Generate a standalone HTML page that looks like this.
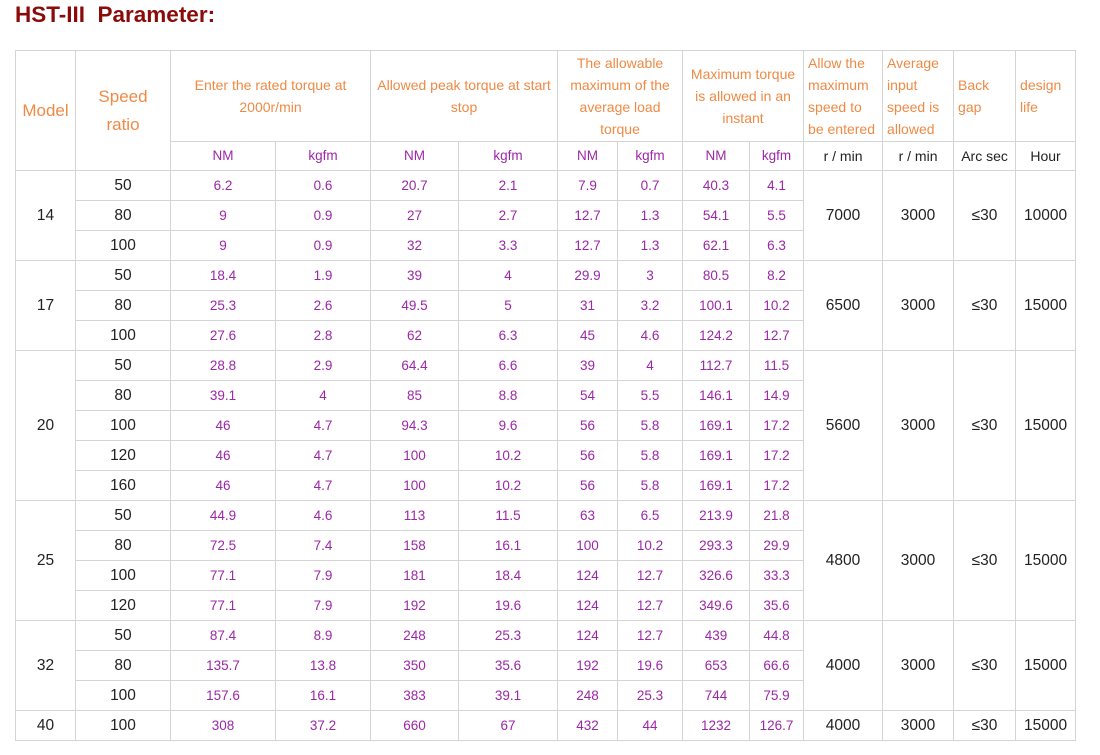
<!DOCTYPE html>
<html><head><meta charset="utf-8"><style>
body{margin:0;background:#fff;font-family:"Liberation Sans",Arial,sans-serif;}
h1{position:absolute;left:15px;top:2px;margin:0;font-size:22.5px;font-weight:bold;color:#8b0a0a;}
table{position:absolute;left:15px;top:50px;border-collapse:collapse;table-layout:fixed;width:1060px;}
td{border:1px solid #d4d4d4;text-align:center;padding:0;font-size:13.5px;color:#9c27a8;height:29px;line-height:28px;}
.h{color:#ef8a45;font-size:14px;line-height:22px;}
.hl{text-align:left;padding-left:4px;}
.k{color:#222;font-size:15.5px;}
.s{color:#222;font-size:14px;}
.big{font-size:17px;line-height:28px;}
tr.sub td{height:28px;line-height:26px;}
</style></head><body>
<h1>HST-III&nbsp; Parameter:</h1>
<table>
<colgroup><col style="width:60px"><col style="width:95px"><col style="width:105px"><col style="width:95px"><col style="width:88px"><col style="width:99px"><col style="width:60px"><col style="width:65px"><col style="width:67px"><col style="width:54px"><col style="width:79px"><col style="width:71px"><col style="width:62px"><col style="width:60px"></colgroup>
<tr style="height:91px"><td rowspan="2" class="h" style="font-size:17px">Model</td><td rowspan="2" class="h big">Speed<br>ratio</td><td colspan="2" class="h">Enter the rated torque at<br>2000r/min</td><td colspan="2" class="h">Allowed peak torque at start<br>stop</td><td colspan="2" class="h">The allowable<br>maximum of the<br>average load<br>torque</td><td colspan="2" class="h">Maximum torque<br>is allowed in an<br>instant</td><td class="h hl">Allow the<br>maximum<br>speed to<br>be entered</td><td class="h hl">Average<br>input<br>speed is<br>allowed</td><td class="h hl">Back<br>gap</td><td class="h hl">design<br>life</td></tr>
<tr class="sub"><td>NM</td><td>kgfm</td><td>NM</td><td>kgfm</td><td>NM</td><td>kgfm</td><td>NM</td><td>kgfm</td><td class="s">r / min</td><td class="s">r / min</td><td class="s">Arc sec</td><td class="s">Hour</td></tr>
<tr><td rowspan="3" class="k">14</td><td class="k">50</td><td>6.2</td><td>0.6</td><td>20.7</td><td>2.1</td><td>7.9</td><td>0.7</td><td>40.3</td><td>4.1</td><td rowspan="3" class="k">7000</td><td rowspan="3" class="k">3000</td><td rowspan="3" class="k">≤30</td><td rowspan="3" class="k">10000</td></tr>
<tr><td class="k">80</td><td>9</td><td>0.9</td><td>27</td><td>2.7</td><td>12.7</td><td>1.3</td><td>54.1</td><td>5.5</td></tr>
<tr><td class="k">100</td><td>9</td><td>0.9</td><td>32</td><td>3.3</td><td>12.7</td><td>1.3</td><td>62.1</td><td>6.3</td></tr>
<tr><td rowspan="3" class="k">17</td><td class="k">50</td><td>18.4</td><td>1.9</td><td>39</td><td>4</td><td>29.9</td><td>3</td><td>80.5</td><td>8.2</td><td rowspan="3" class="k">6500</td><td rowspan="3" class="k">3000</td><td rowspan="3" class="k">≤30</td><td rowspan="3" class="k">15000</td></tr>
<tr><td class="k">80</td><td>25.3</td><td>2.6</td><td>49.5</td><td>5</td><td>31</td><td>3.2</td><td>100.1</td><td>10.2</td></tr>
<tr><td class="k">100</td><td>27.6</td><td>2.8</td><td>62</td><td>6.3</td><td>45</td><td>4.6</td><td>124.2</td><td>12.7</td></tr>
<tr><td rowspan="5" class="k">20</td><td class="k">50</td><td>28.8</td><td>2.9</td><td>64.4</td><td>6.6</td><td>39</td><td>4</td><td>112.7</td><td>11.5</td><td rowspan="5" class="k">5600</td><td rowspan="5" class="k">3000</td><td rowspan="5" class="k">≤30</td><td rowspan="5" class="k">15000</td></tr>
<tr><td class="k">80</td><td>39.1</td><td>4</td><td>85</td><td>8.8</td><td>54</td><td>5.5</td><td>146.1</td><td>14.9</td></tr>
<tr><td class="k">100</td><td>46</td><td>4.7</td><td>94.3</td><td>9.6</td><td>56</td><td>5.8</td><td>169.1</td><td>17.2</td></tr>
<tr><td class="k">120</td><td>46</td><td>4.7</td><td>100</td><td>10.2</td><td>56</td><td>5.8</td><td>169.1</td><td>17.2</td></tr>
<tr><td class="k">160</td><td>46</td><td>4.7</td><td>100</td><td>10.2</td><td>56</td><td>5.8</td><td>169.1</td><td>17.2</td></tr>
<tr><td rowspan="4" class="k">25</td><td class="k">50</td><td>44.9</td><td>4.6</td><td>113</td><td>11.5</td><td>63</td><td>6.5</td><td>213.9</td><td>21.8</td><td rowspan="4" class="k">4800</td><td rowspan="4" class="k">3000</td><td rowspan="4" class="k">≤30</td><td rowspan="4" class="k">15000</td></tr>
<tr><td class="k">80</td><td>72.5</td><td>7.4</td><td>158</td><td>16.1</td><td>100</td><td>10.2</td><td>293.3</td><td>29.9</td></tr>
<tr><td class="k">100</td><td>77.1</td><td>7.9</td><td>181</td><td>18.4</td><td>124</td><td>12.7</td><td>326.6</td><td>33.3</td></tr>
<tr><td class="k">120</td><td>77.1</td><td>7.9</td><td>192</td><td>19.6</td><td>124</td><td>12.7</td><td>349.6</td><td>35.6</td></tr>
<tr><td rowspan="3" class="k">32</td><td class="k">50</td><td>87.4</td><td>8.9</td><td>248</td><td>25.3</td><td>124</td><td>12.7</td><td>439</td><td>44.8</td><td rowspan="3" class="k">4000</td><td rowspan="3" class="k">3000</td><td rowspan="3" class="k">≤30</td><td rowspan="3" class="k">15000</td></tr>
<tr><td class="k">80</td><td>135.7</td><td>13.8</td><td>350</td><td>35.6</td><td>192</td><td>19.6</td><td>653</td><td>66.6</td></tr>
<tr><td class="k">100</td><td>157.6</td><td>16.1</td><td>383</td><td>39.1</td><td>248</td><td>25.3</td><td>744</td><td>75.9</td></tr>
<tr><td class="k">40</td><td class="k">100</td><td>308</td><td>37.2</td><td>660</td><td>67</td><td>432</td><td>44</td><td>1232</td><td>126.7</td><td class="k">4000</td><td class="k">3000</td><td class="k">≤30</td><td class="k">15000</td></tr>
</table>
</body></html>
